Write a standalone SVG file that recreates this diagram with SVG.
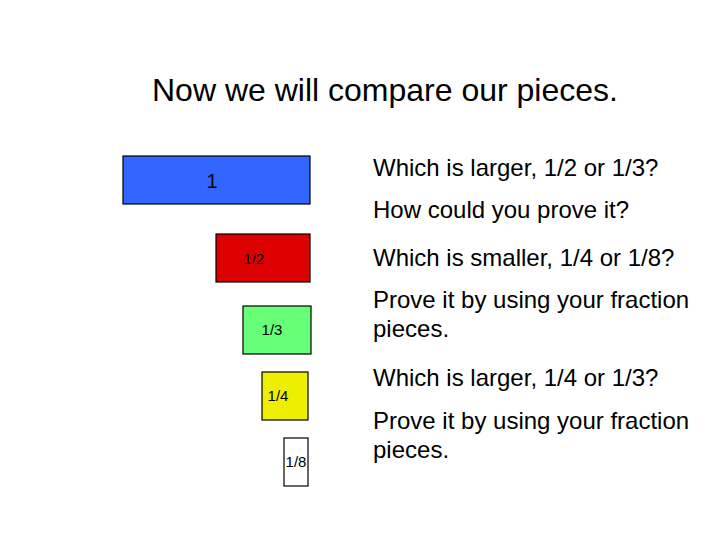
<svg xmlns="http://www.w3.org/2000/svg" width="720" height="540" viewBox="0 0 720 540">
<style>
text{font-family:"Liberation Sans",Arial,sans-serif;fill:#000}
.q{font-size:24px}
.p{stroke:#000;stroke-width:1.2}
.l{font-size:15px;text-anchor:middle}
</style>
<rect width="720" height="540" fill="#fff"/>
<text x="152" y="101" font-size="32">Now we will compare our pieces.</text>
<g id="piece-1"><rect class="p" x="123" y="156" width="187" height="48" fill="#3366ff"/><text x="212" y="188" font-size="20" text-anchor="middle">1</text></g>
<g id="piece-half"><rect class="p" x="216" y="234" width="94" height="48" fill="#dd0000"/><text class="l" x="254" y="264" fill="#330000">1/2</text></g>
<g id="piece-third"><rect class="p" x="243" y="306" width="68" height="48" fill="#66ff77"/><text class="l" x="272" y="335">1/3</text></g>
<g id="piece-quarter"><rect class="p" x="262" y="372" width="46" height="48" fill="#eeee00"/><text class="l" x="278" y="401">1/4</text></g>
<g id="piece-eighth"><rect class="p" x="284" y="438" width="24" height="48" fill="#fff"/><text class="l" x="296" y="467">1/8</text></g>
<g id="questions">
<text class="q" x="373" y="176">Which is larger, 1/2 or 1/3?</text>
<text class="q" x="373" y="218">How could you prove it?</text>
<text class="q" x="373" y="266">Which is smaller, 1/4 or 1/8?</text>
<text class="q" x="373" y="308">Prove it by using your fraction</text>
<text class="q" x="373" y="337">pieces.</text>
<text class="q" x="373" y="386">Which is larger, 1/4 or 1/3?</text>
<text class="q" x="373" y="429">Prove it by using your fraction</text>
<text class="q" x="373" y="458">pieces.</text>
</g>
</svg>
